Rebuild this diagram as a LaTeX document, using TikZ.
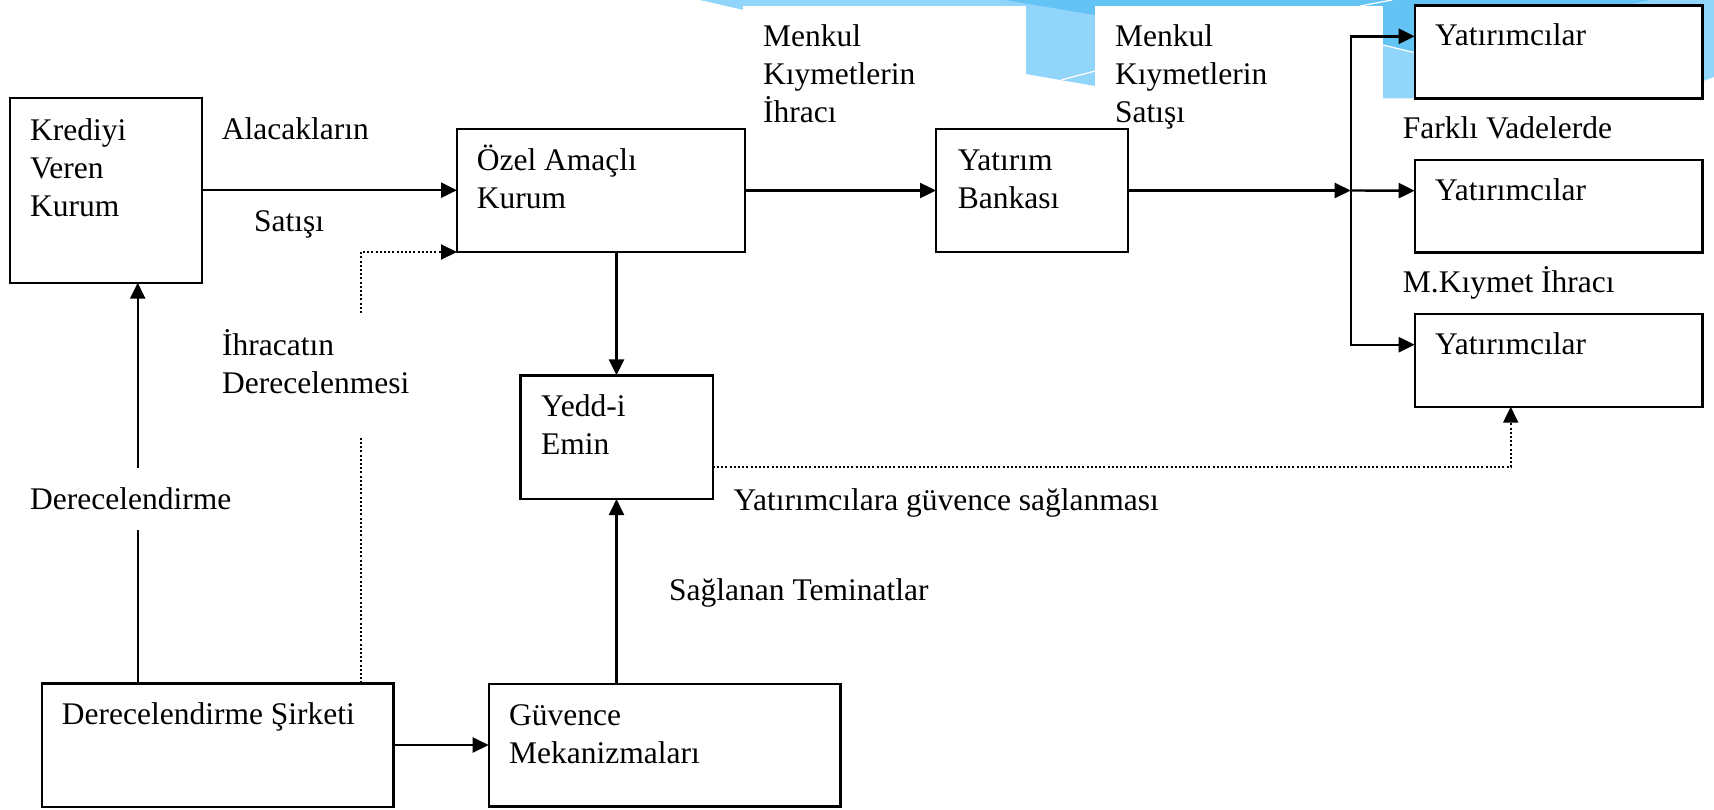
\documentclass[tikz,border=0pt]{standalone}
\usepackage{fontspec}
\setmainfont{Liberation Serif}
\usetikzlibrary{arrows.meta,calc}
\definecolor{bluelight}{HTML}{92D5FA}
\definecolor{bluedark}{HTML}{63C3F5}
\begin{document}
\begin{tikzpicture}[x=1pt,y=-1pt,
  box/.style={draw, line width=2.4pt, rectangle, inner sep=0pt, outer sep=0pt, fill=white},
  txt/.style={inner sep=0pt, anchor=base west, align=left, font=\fontsize{31.5}{38}\selectfont},
  conn/.style={line width=2.4pt},
  tip/.style={-{Triangle[length=16pt,width=15pt]}},
  arr/.style={conn, tip},
  dots/.style={line width=2pt, dash pattern=on 2pt off 2.2pt},
]
\useasboundingbox (0,0) rectangle (1714,809);
\fill[white] (0,0) rectangle (1714,809);
% slide decoration
\fill[bluelight] (700,0) -- (1026,74) -- (1095,86) -- (1200,93) -- (1300,97) -- (1400,98.5) -- (1500,96) -- (1600,90) -- (1703,81) -- (1714,77) -- (1714,0) -- cycle;
\fill[bluedark] (1005,0) -- (1650,0) -- (1414,52.5) -- (1383,45) -- (1095,15) -- cycle;
\draw[white, line width=1.2pt] (1061,80) -- (1095,71);
\draw[white, line width=1.2pt] (1383,45) -- (1414,52.5);
\draw[white, line width=1.2pt] (1360,6) -- (1392,0);
\fill[white] (743,6) rectangle (1026,125);
\fill[white] (1095,6) rectangle (1383,125);

% boxes
\node[box, minimum width=192pt, minimum height=185pt] (kredi) at (106,190.2) {};
\node[box, minimum width=288pt, minimum height=123pt] (ozel) at (601,190.5) {};
\node[box, minimum width=192pt, minimum height=123pt] (banka) at (1032,190.5) {};
\node[box, minimum width=287.6pt, minimum height=93pt] (yat1) at (1558.5,51.8) {};
\node[box, minimum width=287.6pt, minimum height=92.3pt] (yat2) at (1558.5,206.2) {};
\node[box, minimum width=287.6pt, minimum height=93pt] (yat3) at (1558.5,360.2) {};
\node[box, minimum width=192.4pt, minimum height=123.7pt] (yedd) at (616.5,437.2) {};
\node[box, minimum width=351.6pt, minimum height=123.4pt] (derec) at (217.5,745) {};
\node[box, minimum width=351.6pt, minimum height=122.7pt] (guv) at (664.5,745.3) {};

% texts (multi-line texts are placed by the baseline of their last line)
\node[txt] (tKredi) at (30,216) {Krediyi\\Veren\\Kurum};
\node[txt] (tAlac) at (221.7,139.3) {Alacakların};
\node[txt] (tSat) at (254,231) {Satışı};
\node[txt] (tIhr) at (222,393) {İhracatın\\Derecelenmesi};
\node[txt] (tDer) at (30,509.3) {Derecelendirme};
\node[txt] (tOzel) at (476.6,208.5) {Özel Amaçlı\\Kurum};
\node[txt] (tBanka) at (957.6,208.5) {Yatırım\\Bankası};
\node[txt] (tMenk1) at (763,122) {Menkul\\Kıymetlerin\\İhracı};
\node[txt] (tMenk2) at (1115,122) {Menkul\\Kıymetlerin\\Satışı};
\node[txt] (tY1) at (1435,45) {Yatırımcılar};
\node[txt] (tY2) at (1435,200) {Yatırımcılar};
\node[txt] (tY3) at (1435,354.3) {Yatırımcılar};
\node[txt] (tFark) at (1402.7,138.3) {Farklı Vadelerde};
\node[txt] (tMK) at (1402.7,292.7) {M.Kıymet İhracı};
\node[txt] (tYedd) at (541,454.7) {Yedd-i\\Emin};
\node[txt] (tYatG) at (733.3,510) {Yatırımcılara güvence sağlanması};
\node[txt] (tSag) at (669,600.7) {Sağlanan Teminatlar};
\node[txt] (tDerS) at (61.7,724.3) {Derecelendirme Şirketi};
\node[txt] (tGuv) at (509,763) {Güvence\\Mekanizmaları};

% connectors
\draw[arr] (kredi.east) -- (kredi.east -| ozel.west);
\draw[arr] (ozel.east) -- (banka.west);
\coordinate (junc) at (1350.7,190.5);
\draw[arr] (banka.east) -- (junc);
\coordinate (y1in) at ([yshift=15.5pt]yat1.west);
\coordinate (y2in) at ([yshift=15.5pt]yat2.west);
\coordinate (y3in) at ([yshift=15.5pt]yat3.west);
\draw[arr] (junc) |- (y1in);
\draw[arr] (junc) -- (y2in);
\draw[arr] (junc) |- (y3in);
\draw[arr] (ozel.south -| yedd.north) -- (yedd.north);
\draw[arr] (guv.north -| yedd.south) -- (yedd.south);
\draw[arr] (derec.east) -- (derec.east -| guv.west);
\coordinate (dA) at (137.7,530);
\coordinate (dB) at (137.7,467.7);
\draw[conn] (derec.north -| dA) -- (dA);
\draw[arr] (dB) -- (dB |- kredi.south);
\coordinate (iA) at (361,438);
\coordinate (iB) at (361,313);
\draw[dots] (derec.north -| iA) -- (iA);
\draw[dots, tip] (iB) |- (ozel.south west);
\coordinate (gA) at (1510.7,467.3);
\draw[dots, tip] (yedd.east |- gA) -- (gA) -- (gA |- yat3.south);
\end{tikzpicture}
\end{document}
